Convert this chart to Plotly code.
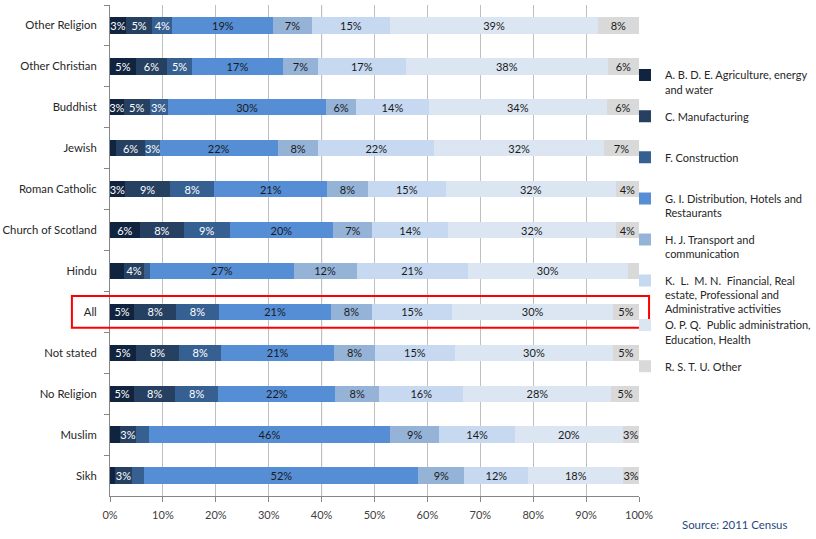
import plotly.graph_objects as go

categories = ["Other Religion", "Other Christian", "Buddhist", "Jewish", "Roman Catholic",
              "Church of Scotland", "Hindu", "All", "Not stated", "No Religion", "Muslim", "Sikh"]

legend_names = [
    "A. B. D. E. Agriculture, energy<br>and water",
    "C. Manufacturing",
    "F. Construction",
    "G. I. Distribution, Hotels and<br>Restaurants",
    "H. J. Transport and<br>communication",
    "K.  L.  M. N.  Financial, Real<br>estate, Professional and<br>Administrative activities",
    "O. P. Q.  Public administration,<br>Education, Health",
    "R. S. T. U. Other",
]

agri      = [3.0, 4.9, 2.6, 1.1, 2.8, 5.6, 2.6, 4.6, 4.9, 4.6, 1.8, 0.9]
manuf     = [5.0, 5.9, 4.9, 5.6, 8.6, 8.4, 3.9, 7.9, 8.2, 7.7, 3.2, 3.3]
constr    = [3.8, 4.7, 3.4, 2.7, 8.3, 8.6, 1.1, 8.1, 7.9, 8.2, 2.3, 2.3]
distrib   = [19.1, 17.2, 30.0, 22.3, 21.4, 19.6, 27.1, 21.2, 21.4, 22.1, 45.7, 51.8]
transport = [7.2, 6.6, 5.6, 7.7, 7.6, 7.4, 11.9, 7.7, 7.7, 8.3, 9.2, 8.7]
financial = [14.9, 16.6, 13.8, 21.9, 14.8, 14.3, 21.0, 15.2, 15.1, 15.9, 14.4, 12.1]
public    = [39.2, 38.2, 33.6, 32.1, 32.1, 31.7, 30.3, 30.4, 29.9, 28.0, 20.3, 17.9]
other     = [7.8, 5.9, 6.1, 6.6, 4.4, 4.4, 2.1, 4.9, 4.9, 5.2, 3.1, 3.0]

series = [agri, manuf, constr, distrib, transport, financial, public, other]

# labels not shown in the original (segment too narrow)
hidden_labels = {("Jewish", 0), ("Hindu", 0), ("Hindu", 2), ("Hindu", 7),
                 ("Muslim", 0), ("Muslim", 2), ("Sikh", 0), ("Sikh", 2)}

colors = ["#10233F", "#254061", "#376092", "#558ED5", "#95B3D7", "#C6D9F1", "#DCE6F2", "#D9D9D9"]
text_colors = ["#FFFFFF", "#FFFFFF", "#FFFFFF", "#1A1A1A", "#1A1A1A", "#1A1A1A", "#1A1A1A", "#1A1A1A"]

NB = "\u00a0"
fig = go.Figure()
for i, (name, vals) in enumerate(zip(legend_names, series)):
    label = name
    if "<br>" not in name and i < 6:
        label = name + "<br>" + NB
    texts = ["" if (c, i) in hidden_labels else f"{v:.0f}%" for c, v in zip(categories, vals)]
    fig.add_trace(go.Bar(
        y=categories, x=vals, name=label, orientation="h",
        marker=dict(color=colors[i], line=dict(width=0)),
        text=texts, textposition="inside", insidetextanchor="middle", textangle=0,
        constraintext="none",
        textfont=dict(family="Lato", size=11, color=text_colors[i]),
        legendgroup=f"g{i}", legend="legend" if i < 6 else "legend2",
    ))

all_idx = categories.index("All")

fig.update_layout(
    width=816, height=539,
    margin=dict(l=110, r=177, t=5, b=43, autoexpand=False),
    barmode="stack", bargap=0.6,
    plot_bgcolor="white", paper_bgcolor="white",
    font=dict(family="Lato", size=11, color="#262626"),
    uniformtext=dict(minsize=11, mode="show"),
    xaxis=dict(range=[0, 100], dtick=10, ticksuffix="%", showgrid=True,
               gridcolor="#BFBFBF", gridwidth=1, zeroline=False,
               showline=True, linecolor="#868686", linewidth=1,
               ticks="outside", ticklen=5, tickcolor="#868686", ticklabelstandoff=4,
               tickfont=dict(family="Lato", size=11, color="#404040")),
    yaxis=dict(autorange="reversed", showgrid=False, showline=True,
               linecolor="#868686", linewidth=1, ticks="outside", tickson="boundaries",
               ticklen=5, tickcolor="#868686", ticklabelstandoff=10,
               tickfont=dict(family="Lato", size=11.3, color="#262626")),
    legend=dict(x=0.9735, y=0.885, xanchor="left", yanchor="top",
                traceorder="grouped", tracegroupgap=9.5, valign="top",
                font=dict(family="Lato", size=11, color="#262626"),
                bgcolor="rgba(0,0,0,0)"),
    legend2=dict(x=0.9735, y=0.376, xanchor="left", yanchor="top",
                 traceorder="grouped", tracegroupgap=9.5, valign="top",
                 font=dict(family="Lato", size=11, color="#262626"),
                 bgcolor="rgba(0,0,0,0)"),
    shapes=[
        dict(type="line", xref="x", yref="paper", x0=40, x1=40, y0=0, y1=1,
             line=dict(color="#8C8C8C", width=1), layer="below"),
        dict(type="rect", xref="paper", yref="y", x0=-0.072, x1=1.019,
             y0=all_idx - 0.39, y1=all_idx + 0.39,
             line=dict(color="#FF0000", width=2), fillcolor="rgba(0,0,0,0)"),
    ],
    annotations=[
        dict(text="Source: 2011 Census", xref="paper", yref="paper",
             x=1.0775, y=-0.059, xanchor="left", yanchor="middle", showarrow=False,
             font=dict(family="Lato", size=11.4, color="#1F497D")),
    ],
)

fig.write_html("out.html", config={"displayModeBar": False},
               post_script="document.body.style.margin='0';")
